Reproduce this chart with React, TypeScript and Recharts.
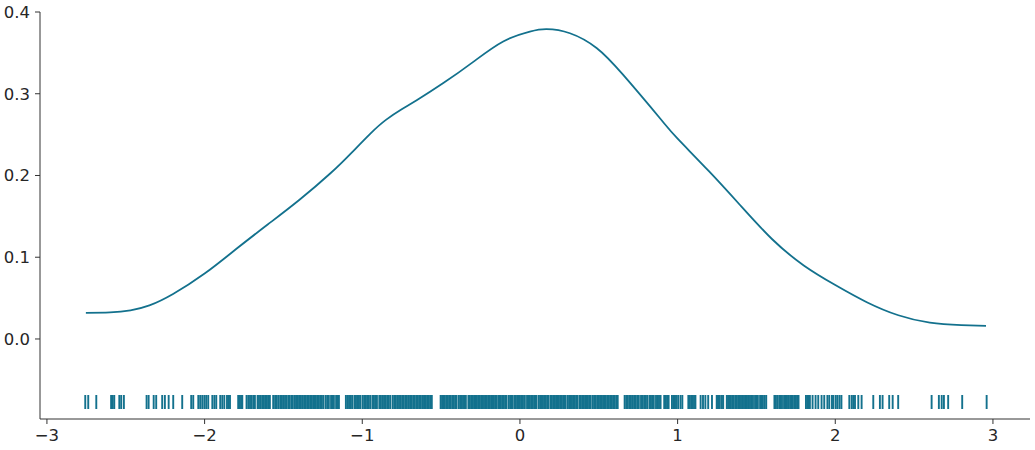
import { ComposedChart, Line, Scatter, XAxis, YAxis } from "recharts";

// density curve
const kdeX = [-2.753, -2.6, -2.47, -2.35, -2.2, -2.0, -1.8, -1.6, -1.4, -1.2, -1.067, -0.95, -0.85, -0.75, -0.655, -0.486, -0.296, -0.106, 0.063, 0.169, 0.317, 0.486, 0.655, 0.888, 1.0, 1.2, 1.4, 1.6, 1.8, 2.0, 2.2, 2.4, 2.6, 2.8, 2.956];
const kdeY = [0.032, 0.0325, 0.035, 0.041, 0.055, 0.08, 0.11, 0.14, 0.17, 0.203, 0.228, 0.251, 0.268, 0.281, 0.292, 0.313, 0.339, 0.364, 0.376, 0.379, 0.374, 0.356, 0.323, 0.27, 0.245, 0.205, 0.163, 0.122, 0.09, 0.066, 0.045, 0.029, 0.02, 0.017, 0.016];

// rug observations
const rugValues = [
  -2.757, -2.738, -2.687, -2.593, -2.583, -2.573, -2.541, -2.529, -2.512, -2.368, -2.355, -2.323, -2.307, -2.269, -2.252, -2.228, -2.199, -2.142, -2.085, -2.072,
  -2.040, -2.028, -2.015, -2.002, -1.990, -1.977, -1.951, -1.938, -1.926, -1.901, -1.888, -1.875, -1.858, -1.848, -1.839,
  -1.787, -1.778, -1.769, -1.761, -1.734, -1.723, -1.712, -1.702, -1.691, -1.681,
  -1.664, -1.655, -1.644, -1.634, -1.624, -1.615, -1.605, -1.596, -1.586,
  -1.565, -1.553, -1.542, -1.531, -1.520, -1.510, -1.501, -1.490, -1.480, -1.469, -1.463, -1.451, -1.440, -1.427,
  -1.418, -1.408, -1.398, -1.389, -1.379, -1.369, -1.360, -1.350, -1.341, -1.331, -1.322, -1.312, -1.303, -1.294, -1.284, -1.275, -1.265, -1.256, -1.246,
  -1.232, -1.222, -1.212, -1.198, -1.190, -1.180, -1.166, -1.157, -1.148,
  -1.104, -1.094, -1.084, -1.073, -1.064, -1.050, -1.040, -1.031, -1.021, -1.012, -0.998, -0.988, -0.978, -0.969, -0.960, -0.950, -0.936, -0.926, -0.917, -0.907,
  -0.892, -0.882, -0.872, -0.862, -0.852, -0.842, -0.832, -0.822,
  -0.807, -0.797, -0.787, -0.777, -0.767, -0.757, -0.747, -0.737, -0.727, -0.717, -0.707, -0.697, -0.687, -0.677, -0.667, -0.657, -0.647, -0.637, -0.628, -0.616, -0.608, -0.597, -0.588, -0.578, -0.569, -0.559,
  -0.503, -0.494, -0.485, -0.476, -0.466, -0.457, -0.448, -0.439, -0.429, -0.420, -0.411, -0.402, -0.388, -0.379, -0.370, -0.361, -0.352, -0.343, -0.327, -0.318,
  -0.309, -0.300, -0.291, -0.282, -0.273, -0.264, -0.255, -0.246, -0.237, -0.228, -0.219, -0.210, -0.201, -0.192, -0.183, -0.174, -0.165, -0.156, -0.150, -0.138,
  -0.132, -0.121, -0.112, -0.103, -0.094, -0.085, -0.071, -0.062, -0.053, -0.048, -0.036, -0.027, -0.018, -0.009, 0.000, 0.009, 0.018, 0.027, 0.031, 0.045,
  0.054, 0.063, 0.072, 0.081, 0.090, 0.099, 0.105, 0.119, 0.128, 0.137, 0.146, 0.155, 0.164, 0.173, 0.180, 0.193, 0.202, 0.211, 0.220, 0.229,
  0.238, 0.247, 0.256, 0.265, 0.274, 0.283, 0.290, 0.303, 0.312, 0.321, 0.330, 0.339, 0.348, 0.357, 0.364, 0.377, 0.386, 0.395, 0.404, 0.413, 0.422, 0.431, 0.440, 0.449,
  0.462, 0.471, 0.480, 0.490, 0.499, 0.508, 0.517, 0.527, 0.536, 0.545, 0.555, 0.564, 0.573, 0.583, 0.592, 0.601, 0.611, 0.620,
  0.664, 0.674, 0.684, 0.694, 0.704, 0.714, 0.724, 0.734, 0.744, 0.754, 0.768, 0.778, 0.788, 0.798, 0.807, 0.821, 0.831, 0.840, 0.849, 0.863,
  0.873, 0.882, 0.892, 0.915, 0.924, 0.933, 0.943, 0.964, 0.973, 0.982, 0.990, 1.003, 1.018, 1.030,
  1.068, 1.077, 1.086, 1.095, 1.104, 1.113, 1.146, 1.161, 1.176, 1.194, 1.218,
  1.248, 1.256, 1.262, 1.268, 1.281, 1.289, 1.312, 1.320, 1.329,
  1.338, 1.347, 1.356, 1.366, 1.375, 1.384, 1.393, 1.402, 1.411, 1.421, 1.430, 1.439, 1.447,
  1.459, 1.468, 1.478, 1.491, 1.500, 1.509, 1.523, 1.532, 1.541, 1.552, 1.562,
  1.614, 1.623, 1.632, 1.644, 1.653, 1.662, 1.675, 1.684, 1.693, 1.701,
  1.713, 1.722, 1.731, 1.741, 1.750, 1.758, 1.767,
  1.814, 1.823, 1.832, 1.839, 1.856, 1.875, 1.892, 1.913, 1.930, 1.950, 1.962, 1.979, 1.988, 2.003, 2.014, 2.027, 2.039,
  2.089, 2.104, 2.114, 2.125, 2.146, 2.167, 2.241, 2.283, 2.300, 2.342, 2.364, 2.399, 2.611, 2.657, 2.675, 2.689, 2.716, 2.805, 2.960,
];
const rugLevel = -0.0771;

const xTicks = [-3, -2, -1, 0, 1, 2, 3];
const yTicks = [0, 0.1, 0.2, 0.3, 0.4];

const color = "#13718d";
const ink = "#262626";

const kdeData = kdeX.map((x, i) => ({ x, y: kdeY[i] }));
const rugData = rugValues.map((x) => ({ x, y: rugLevel }));

const RugTick = (props: any) => {
  const { cx, cy } = props;
  return <line x1={cx} x2={cx} y1={cy - 7} y2={cy + 7} stroke={color} strokeWidth={1.9} />;
};

const tickStyle = { fill: ink, fontSize: 16.5, fontFamily: "DejaVu Sans" };

export default function App() {
  return (
    <div style={{ position: "absolute", left: 0, top: 0, background: "#fff" }}>
      <ComposedChart width={1035} height={450} margin={{ top: 12, right: 5, bottom: 0, left: 0 }}>
        <XAxis
          type="number"
          dataKey="x"
          domain={[-3.044, 3.235]}
          ticks={xTicks}
          allowDataOverflow
          height={31}
          tickSize={5}
          tickMargin={5}
          tick={tickStyle}
          stroke="#333"
          tickFormatter={(v: number) => String(v).replace("-", "\u2212")}
        />
        <YAxis
          type="number"
          dataKey="y"
          domain={[-0.0979, 0.4]}
          ticks={yTicks}
          allowDataOverflow
          width={40}
          tickSize={5}
          tickMargin={5}
          tick={tickStyle}
          stroke="#333"
          tickFormatter={(v: number) => v.toFixed(1)}
        />
        <Scatter data={rugData} dataKey="y" shape={RugTick} isAnimationActive={false} />
        <Line
          data={kdeData}
          dataKey="y"
          type="natural"
          stroke={color}
          strokeWidth={1.8}
          dot={false}
          isAnimationActive={false}
        />
      </ComposedChart>
    </div>
  );
}
